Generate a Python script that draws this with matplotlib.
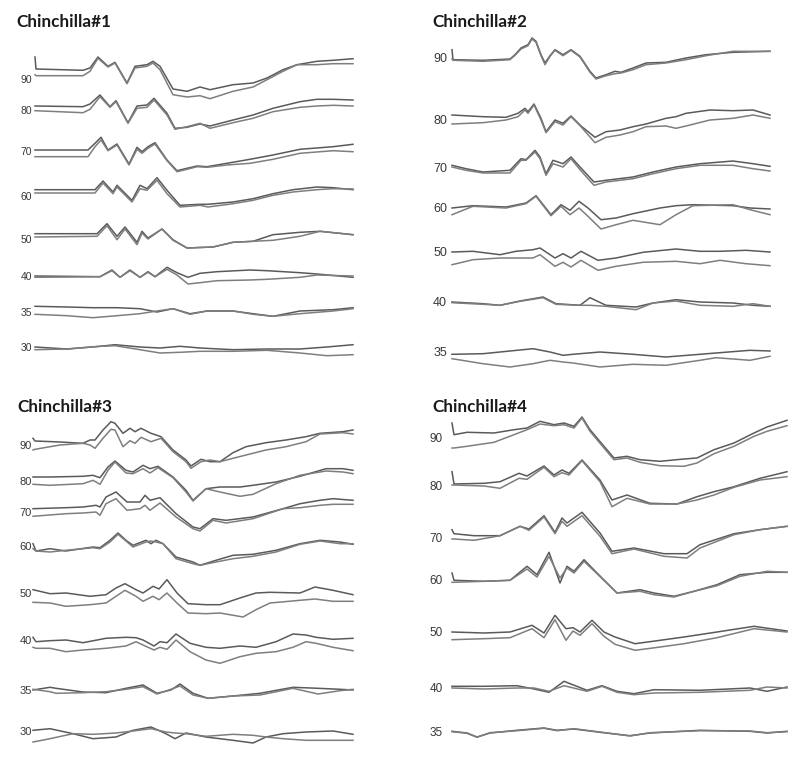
import numpy as np
import matplotlib.pyplot as plt

# ABR waveforms, two repeated recordings (a, b) per stimulus level.
# t = sample index from stimulus onset, amplitude in arbitrary units (up = positive)

# ---------------- Chinchilla#1 ----------------
c1_levels = [90, 80, 70, 60, 50, 40, 35, 30]
c1_t = [
    [0, 1, 48, 55, 63, 73, 80, 92, 100, 112, 118, 125, 138, 152, 165, 175, 198, 218, 232, 248, 262, 282, 298, 318],
    [0, 48, 55, 65, 75, 81, 93, 102, 112, 119, 132, 140, 152, 165, 175, 198, 218, 238, 265, 282, 298, 318],
    [0, 53, 60, 66, 73, 82, 94, 102, 107, 113, 120, 132, 142, 152, 162, 172, 192, 215, 238, 265, 298, 318],
    [0, 60, 68, 78, 82, 97, 105, 112, 122, 132, 145, 165, 173, 198, 218, 238, 258, 282, 298, 318],
    [0, 62, 72, 82, 90, 102, 107, 113, 127, 138, 152, 178, 198, 218, 238, 265, 285, 318],
    [0, 65, 77, 85, 95, 105, 113, 120, 132, 142, 153, 165, 182, 215, 232, 265, 282, 318],
    [0, 32, 58, 82, 105, 122, 138, 155, 172, 198, 218, 238, 265, 298, 318],
    [0, 32, 65, 80, 105, 125, 145, 165, 198, 232, 265, 292, 318],
]
c1_a = [
    [22, 10, 8.7, 11, 22, 12.7, 16.7, -4, 12.7, 14.3, 17.7, 12.7, -10, -12.3, -8, -10.7, -5.7, -4, 1, 9.3, 14.3, 17.7, 18.7, 20.3],
    [4, 3.3, 6, 15, 3.3, 9.3, -12.7, 4, 5, 11.7, -3.3, -18.3, -17.3, -14, -16, -10, -5, 1.7, 8.3, 10.7, 10.7, 10],
    [1, 1, 7.7, 13.7, 1, 7, -13, 3.7, -0.7, 4.3, 8.3, -9, -19.7, -17.3, -15, -15.7, -12.3, -8.3, -4, 1.7, 4.3, 6.7],
    [6.3, 6.3, 15, 4, 10.7, -4.3, 10.7, 7.3, 18.3, 5.7, -9.3, -8.3, -8.3, -6, -2.7, 2.3, 6.3, 9, 8.3, 6.3],
    [5.3, 5.3, 15.3, 2.7, 12, -3.3, 7.7, 1, 10, -0.7, -9, -8, -3.3, -2.3, 4.3, 6.7, 7.7, 4.3],
    [0, -0.7, 6, -1.3, 6, -1.3, 4.3, -0.7, 8.7, 3.3, -1.3, 2.7, 4.3, 6, 5.3, 3.3, 2, -1.3],
    [5.7, 5, 4.3, 4.3, 3.3, 0, 3.3, -1.7, 1, 1, -1.7, -4.3, 1, 2.3, 4.3],
    [0, -2, 0.7, 2.3, 0, -1, 0.7, -1, -2.7, -2, -2, 0, 2.3],
]
c1_b = [
    [4.3, 3.3, 3.3, 7.7, 20.7, 12, 16, -4.7, 11, 12.7, 16, 9.3, -15.7, -18, -16.7, -19.7, -12.3, -8, -0.7, 7.7, 14.3, 14.3, 15.3, 15.3],
    [-0.7, -2.7, 0.7, 13.3, 2.7, 8.3, -13.3, 1.7, 2.7, 10, -5, -19.3, -16.7, -13.3, -18.3, -12.7, -8.3, -1.7, 2.7, 4, 4.7, 4],
    [-5.7, -5.7, 4.3, 11, 0.3, 6, -14, 1.7, -2.3, 2.7, 7, -9.7, -20.7, -18.3, -15.7, -16.3, -14, -12.3, -8.3, -2.3, 0.3, -0.7],
    [3, 3, 13, 2.3, 9, -6, 7.3, 5.7, 15.7, 2.3, -11, -9.3, -11, -7.7, -4.3, 0.7, 4, 6.3, 7.3, 7],
    [2, 2.7, 13.3, -0.7, 10, -5.7, 6, 0, 10, -1.3, -9, -8, -3.3, -2.3, -1.3, 2.7, 7.7, 4.3],
    [-1.3, -0.7, 5.3, -1.3, 5.3, -1.3, 3.7, -0.7, 6.7, 1, -8, -6.7, -4.7, -4, -3.3, -1.3, 1, 0],
    [-2.3, -3.7, -5.7, -3.7, -1.7, 1, 3.3, -2.3, 1, 1, -2.3, -4.3, -1.7, 1, 3.3],
    [-2.7, -2, 0.7, 1.3, -2.7, -6, -5.3, -4.3, -4.3, -3.3, -6, -8.7, -7.7],
]

# ---------------- Chinchilla#2 ----------------
c2_levels = [90, 80, 70, 60, 50, 40, 35]
c2_t = [
    [0, 1, 31, 58, 63, 69, 76, 80, 84, 89, 93, 98, 103, 111, 119, 128, 138, 144, 154, 163, 169, 181, 194, 214, 234, 254, 281, 318],
    [0, 31, 54, 66, 73, 76, 82, 89, 94, 103, 111, 119, 129, 143, 154, 168, 181, 194, 214, 224, 234, 258, 281, 301, 318],
    [0, 14, 31, 58, 69, 74, 83, 88, 94, 101, 111, 119, 128, 142, 154, 181, 201, 224, 248, 281, 301, 318],
    [0, 21, 54, 74, 84, 99, 109, 118, 127, 136, 149, 164, 181, 208, 224, 241, 281, 298, 318],
    [0, 21, 48, 64, 81, 88, 103, 111, 119, 129, 146, 164, 191, 224, 248, 268, 294, 318],
    [0, 31, 48, 68, 91, 104, 128, 138, 154, 184, 201, 224, 248, 281, 301, 318],
    [0, 31, 58, 81, 98, 111, 121, 148, 181, 214, 248, 264, 298, 318],
]
c2_a = [
    [8.3, -1.7, -2.3, -1, 3.3, 10, 13.3, 20, 16.7, 3.3, -5, 2.3, 8.3, 3.3, 8.3, 1.7, -13.3, -20, -16.7, -13.3, -14.3, -10, -5, -4.3, 0, 3.3, 5.7, 6.7],
    [4, 2.3, 1.7, 5.7, 10.7, 7.3, 15, 0.7, -12.7, -1, -4.3, 3, -7, -18.3, -12.7, -11, -7.7, -5, 0.7, 2.3, 5.7, 9, 8.3, 9, 4],
    [2.7, -0.7, -4, -2.3, 9.3, 8.3, 17.7, 11, -5.7, 7.7, 4.3, 11, 1, -14, -12.3, -9, -4, 1, 4.3, 7, 4.3, 1.7],
    [-1, 1.3, 0, 4, 11.3, -7.7, 2.3, -3.3, 5.7, -1, -12.7, -11, -6.7, -1, 1.3, 2.3, 1.3, -1, -2],
    [0, 0.7, -2.7, 0.7, 2.3, 4, -6, -1.7, -6, 0.7, -8.3, -6, -0.3, 3, 0.7, 0.7, 1.7, 0],
    [0, -1.7, -3.3, 1, 5, -1.7, -3.3, 4.3, -3.3, -5, -1, 2.3, 0, -1, -3.3, -4.3],
    [-2.3, -1.7, 1, 3.3, 0, -3.3, -2.3, 0, -2.3, -5, -2.3, -1, 1.7, 1],
]
c2_b = [
    [-1, -2.3, -3.3, -1.7, 2.7, 9, 12.3, 19, 15.7, 2.3, -6.7, 1.7, 7.7, 2.3, 7.7, 1, -14.3, -21, -17.7, -15.7, -15, -11.7, -6.7, -5, -1.7, 2.3, 6.7, 6.7],
    [-5, -3.7, -1, 2.3, 9, 5.7, 14, -1, -13.7, -2.7, -6, 2.3, -7.7, -23.7, -18.3, -16, -12.7, -7.7, -7, -9.3, -7, -1, 0.7, 4, 0.7],
    [1, -2.3, -5, -5, 7.7, 7.7, 16, 9.3, -7.3, 4.3, 1, 9.3, -1.7, -17.3, -14, -10.7, -5.7, -0.7, 2.7, 2.7, -0.7, -3],
    [-7.7, 0.7, -1, 3.3, 10.7, -8.7, 0.7, -7.7, -1, -9.3, -22, -17.7, -13.3, -17.7, -7.7, 1.3, 2.3, -2.7, -7.7],
    [-12.7, -7.7, -6, -6, -6, -2.7, -14.3, -10.3, -15, -8.3, -18.3, -14.3, -10.3, -9.3, -11.7, -8.3, -11.7, -13.7],
    [-0.7, -2.3, -3.3, 0.7, 4.3, -2.3, -3.3, -3.3, -4.3, -7.7, -1, 1, -3.3, -4.3, -1.7, -4.3],
    [-6.7, -11.7, -15, -11.7, -8.3, -10, -11, -15, -12.3, -13.3, -8.3, -5.7, -8.3, -4.3],
]

# ---------------- Chinchilla#3 ----------------
c3_levels = [90, 80, 70, 60, 50, 40, 35, 30]
c3_t = [
    [0, 2, 27, 50, 57, 62, 70, 78, 82, 90, 97, 102, 108, 118, 128, 140, 153, 158, 168, 177, 187, 200, 213, 233, 253, 273, 287, 310, 320],
    [0, 17, 50, 60, 67, 75, 82, 93, 100, 110, 117, 125, 140, 153, 160, 173, 187, 207, 220, 243, 267, 293, 310, 320],
    [0, 33, 50, 63, 67, 73, 83, 94, 107, 112, 117, 127, 143, 160, 167, 180, 193, 220, 250, 267, 287, 300, 320],
    [0, 3, 17, 33, 60, 67, 77, 85, 93, 100, 113, 118, 123, 130, 143, 160, 167, 183, 200, 220, 243, 267, 287, 307, 320],
    [0, 17, 33, 57, 73, 83, 92, 103, 110, 120, 126, 134, 144, 155, 173, 187, 210, 223, 237, 267, 282, 300, 320],
    [0, 3, 17, 33, 50, 73, 93, 103, 110, 121, 127, 134, 143, 157, 173, 187, 207, 223, 243, 260, 273, 283, 300, 320],
    [0, 17, 23, 50, 73, 93, 110, 124, 138, 147, 160, 175, 200, 227, 260, 285, 307, 320],
    [0, 17, 40, 60, 83, 100, 118, 133, 142, 153, 173, 200, 220, 233, 250, 273, 300, 320],
]
c3_a = [
    [6.7, 4, 3, 1.7, 5, 5, 15, 23.3, 21.7, 11.7, 16.7, 13.3, 16.7, 11.7, 8.3, -5, -15, -21, -14.3, -16.7, -16.7, -7.7, -1.7, 2.3, 5, 8.3, 11.7, 13.3, 15],
    [4, 4, 4.7, 5.7, 3.3, 14, 20, 10.7, 9, 15.7, 12.3, 14.7, 4, -9.3, -19.3, -7.7, -6, -6, -4.3, -1, 4.7, 12.3, 12.3, 10.7],
    [3.3, 4.3, 5, 6.7, 5, 15, 20, 10, 10, 16.7, 11.7, 14.3, -1.7, -15, -16.7, -6.7, -8.3, -5, 3.3, 8.3, 11.7, 13.3, 11.7],
    [2.3, -5, -2.7, -5, -1, -1.7, 5.7, 13, 5.7, 0.7, 5.7, 2.3, 5.7, 2.3, -11, -16, -19.3, -14.3, -9.3, -8.3, -4.3, 2.3, 5.7, 4, 1.7],
    [3.3, -0.7, 0, -3.3, -1.7, 5, 9.3, 3.3, 0, 6.7, 4, 13.3, 0, -10.7, -11.7, -11.7, -4, 0, 0.7, 0, 6, 2.7, -1.7],
    [2.7, -1.7, -0.7, 0, -2.7, 1.7, 2.7, 2.3, 0, -6, -1.7, -2.7, 6, -3.3, -7.3, -8.3, -6, -7.3, -1.7, 6, 5, 2.7, 0.7, 1.7],
    [0, 2.7, 1.7, -2, -2.7, 1.7, 5, -3.3, 0, 6, -3.3, -8.3, -6, -3.3, 2.7, 1.7, 0.7, 0],
    [0.7, 2.3, -2.7, -7.7, -6, 0.7, 4, -2.7, -7.7, -2, -6, -9.3, -12, -6, -2.7, -1, 0, -3.3],
]
c3_b = [
    [-5, -4.3, 0, 1.7, 0, -3.3, 6.7, 15.7, 15, -1.7, 4.3, 1.7, 7.7, 3.3, 6.7, -6.7, -16.7, -23.3, -16.7, -15, -16.7, -13.3, -10, -5, -1.7, 3.3, 11, 12.3, 11],
    [-3.3, -4.3, -2.7, 0.7, -3.3, 10.7, 19, 8, 7.3, 12.3, 8, 13.3, 3.3, -11, -20, -7.7, -11, -15.3, -13.3, -2.7, 5.7, 10, 9, 7.3],
    [-4.3, -1.7, -1, 0, -3.3, 8.3, 13.3, 1.7, 3.3, 6.7, 1.7, 9, -5, -16.7, -19, -8.3, -11, -6.7, 3.3, 4.3, 6.7, 7.7, 7.7],
    [-2.7, -5, -6, -4.3, -1.7, -2.7, 4, 11.7, 5, -1, 4, 5, 4, 2.3, -12.7, -17.7, -19.3, -16, -12.7, -10.3, -6, 1.7, 5, 2.3, 2.3],
    [-9.3, -10, -13.3, -11.7, -10, -3.3, 2.7, -3.3, -8.3, -3.3, -6.7, 0, -10, -20, -20.7, -20, -24, -16.7, -10, -7.3, -6, -8.3, -8.3],
    [-7.3, -8.3, -8.3, -11.7, -10, -8.3, -6, -1.7, -5, -10, -7.3, -9.3, 0, -11.7, -20, -23.3, -16.7, -13.3, -11.7, -7.3, -1.7, -3.3, -7.3, -10.7],
    [0.7, -1.7, -3.3, -2.7, -1.7, 0.7, 3.3, -4, 0.7, 4, -5, -8.3, -6, -5, 1.7, -4, -0.7, 0.7],
    [-11, -7.7, -2.7, -3.3, -2, 0, 2.3, -1, -2, -2.7, -5.3, -3.3, -4.3, -6, -7.7, -9.3, -9.3, -9.3],
]

# ---------------- Chinchilla#4 ----------------
c4_levels = [90, 80, 70, 60, 50, 40, 35]
c4_t = [
    [0, 2, 15, 42, 62, 75, 88, 102, 112, 122, 130, 138, 152, 162, 175, 188, 208, 232, 245, 262, 282, 302, 315, 335],
    [0, 2, 32, 48, 67, 75, 92, 102, 110, 117, 130, 148, 160, 175, 198, 225, 245, 262, 282, 308, 335],
    [0, 2, 22, 48, 68, 77, 92, 103, 110, 115, 130, 148, 160, 182, 212, 235, 248, 282, 308, 335],
    [0, 2, 32, 58, 75, 85, 97, 108, 115, 122, 132, 145, 165, 188, 202, 222, 242, 265, 288, 315, 335],
    [0, 32, 58, 80, 92, 103, 114, 121, 128, 140, 152, 163, 183, 203, 232, 265, 302, 335],
    [0, 32, 65, 82, 97, 112, 135, 150, 165, 182, 202, 248, 298, 315, 335],
    [0, 15, 25, 38, 65, 92, 105, 122, 148, 178, 198, 248, 298, 315, 335],
]
c4_a = [
    [15, 3.3, 5.7, 5, 8.3, 10, 16.7, 13.3, 15, 11.7, 21, 8.3, -8.3, -20, -18.3, -21.7, -23.3, -21, -20, -11.7, -5, 5, 11, 17.7],
    [14.3, 2, 2.7, 4.3, 12.7, 10, 20, 11, 16, 12.7, 26, 6, -14, -9, -17.3, -18, -10.7, -5.7, -0.7, 7.7, 14.3],
    [7.3, 3.3, 1.3, 1.3, 10.7, 8, 21.3, 4.7, 19, 14, 24.7, 4, -14.3, -11, -16.7, -16.7, -7.7, 3.3, 7.3, 10.7],
    [6, -1.3, -2.3, -1.3, 12.7, 4.3, 26.7, -4, 12.7, 7.7, 19.3, 6, -14, -10.7, -14, -17.3, -12.3, -5.7, 4.3, 6.7, 6.7],
    [0, -1, 0, 6.7, -1, 16.7, 3.3, 4.3, 0, 11.7, 0, -5, -11.7, -9, -5, 0, 5.7, 1],
    [1.7, 1.7, 2.3, -1, -4.3, 6.7, -2.3, 2.3, -3.3, -5.7, -1.7, -2.3, 0, -3.3, 1],
    [0.7, -1, -5, -1, 1.7, 4, 1.7, 3, -0.3, -3.7, -1, 1.7, 0.7, -1, 0.7],
]
c4_b = [
    [-10, -10, -8.3, -4.3, 3.3, 8.3, 14, 12.3, 13.3, 10, 20, 6.7, -10, -21.7, -20, -24.3, -27.7, -28.3, -25, -15.7, -8.3, 1.7, 6.7, 12.3],
    [1, 1, 0, -2.3, 7.7, 6.7, 18.7, 9.3, 13.3, 11, 25.3, 4.3, -20.7, -12.3, -18, -18, -14, -9, -1.3, 6, 9.3],
    [-2, -2, -3.3, 1.3, 10.7, 6.7, 20, 3.3, 15.7, 10.7, 21.3, 0.7, -16.7, -12, -19.3, -21, -11, 2.3, 7.3, 10.7],
    [-3.3, -3.3, -2.3, -1.3, 10, 2, 22.7, 1, 11, 6, 17.7, 5.3, -14, -12.3, -15.7, -18, -12.3, -6.7, 2.7, 7.7, 6.7],
    [-7.7, -6.7, -5.7, 3.3, -5.7, 12.3, -8.3, 1, -3.3, 8.3, -4.3, -12.3, -18.3, -15.7, -11.7, -5.7, 3.3, 0],
    [0, -1, 0, 0, -3.3, 2.3, -3.3, 1.7, -4.3, -6.7, -5, -4.3, -2.3, 1, 0],
    [0.3, -1.3, -5.3, -0.7, 1.3, 3.7, 1.3, 3.3, 0, -4, -0.7, 1.3, 1, -0.7, 0.3],
]

panels = [
    ("Chinchilla#1", c1_levels, c1_t, c1_a, c1_b),
    ("Chinchilla#2", c2_levels, c2_t, c2_a, c2_b),
    ("Chinchilla#3", c3_levels, c3_t, c3_a, c3_b),
    ("Chinchilla#4", c4_levels, c4_t, c4_a, c4_b),
]

# layout (pixels of an 800x757 canvas)
W, H = 800, 757
boxes = [(35, 355, 0, 380), (452, 770, 0, 380), (33, 354, 380, 757), (452, 787, 380, 757)]
rows = [[79, 110, 151, 196, 239, 276, 312, 347],
        [58, 119, 168, 207, 252, 302, 352],
        [445, 481, 512, 546, 593, 640, 690, 731],
        [438, 486, 537, 579, 632, 688, 732]]
title_pos = [(16, 27), (432, 27), (17, 411.5), (432, 411.5)]
label_size = [7.5, 9, 8, 8.5]
label_pad = [2.2, 3.6, 0.8, 6.5]

fig = plt.figure(figsize=(W / 100, H / 100), dpi=100)
fig.patch.set_facecolor("white")

for i, (title, levels, t, a, b) in enumerate(panels):
    l, r, top, bot = boxes[i]
    ax = fig.add_axes([l / W, 1 - bot / H, (r - l) / W, (bot - top) / H])
    ax.set_xlim(0, r - l)
    ax.set_ylim(bot, top)
    for k in range(len(levels)):
        y0 = rows[i][k]
        ax.plot(t[k], y0 - np.array(a[k]), color="#5a5a5a", lw=1.1,
                solid_joinstyle="round", clip_on=False)
        ax.plot(t[k], y0 - np.array(b[k]), color="#7e7e7e", lw=1.1,
                solid_joinstyle="round", clip_on=False)
    ax.set_yticks(rows[i])
    ax.set_yticklabels([str(v) for v in levels], fontfamily="Liberation Sans")
    ax.tick_params(axis="y", length=0, pad=label_pad[i], labelsize=label_size[i],
                   labelcolor="#383838")
    ax.set_xticks([])
    for s in ax.spines.values():
        s.set_visible(False)
    ax.patch.set_visible(False)
    tx, ty = title_pos[i]
    fig.text(tx / W, 1 - ty / H, title, fontfamily="Lato", fontweight="bold",
             fontsize=12.3, color="#1a1a1a", ha="left", va="baseline")

fig.savefig("out.png", dpi=100, facecolor="white")
